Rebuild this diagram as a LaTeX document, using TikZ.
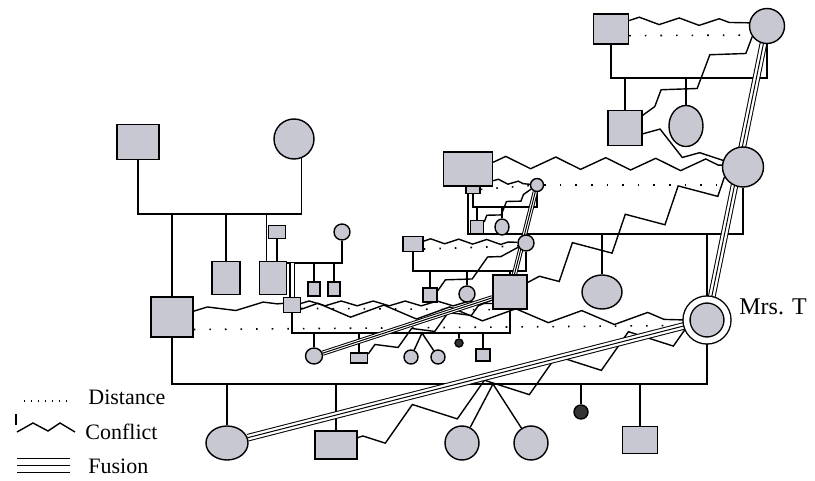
\documentclass[tikz,border=0pt]{standalone}
\usepackage{fontspec}
\setmainfont{Liberation Serif}
\usetikzlibrary{shapes.geometric,decorations.pathmorphing,backgrounds}
\definecolor{gfill}{RGB}{200,200,210}
\tikzset{
  pers/.style={draw, fill=gfill, line width=.7pt, inner sep=0pt},
  sq/.style 2 args={pers, rectangle, minimum width=#1*.5pt, minimum height=#2*.5pt},
  el/.style 2 args={pers, ellipse, minimum width=#1*.5pt, minimum height=#2*.5pt},
  rel/.style={line width=.7pt},
  distline/.style={line width=.8pt, dash pattern=on .8pt off 7pt},
  confline/.style 2 args={line width=.7pt, decorate, decoration={zigzag, amplitude=#1, segment length=#2}},
  fusline/.style={line width=.5pt, preaction={draw, line width=.5pt, double, double distance=#1}},
  fusline/.default=2.8pt,
  legend/.style={anchor=west, inner sep=0pt, font=\fontsize{11}{13}\selectfont}
}
\begin{document}
\begin{tikzpicture}[x=.5pt, y=-.5pt]
\useasboundingbox (0,0) rectangle (815,481);
% top right family
\node[sq={35}{30}] (tr1) at (611,29) {};
\node[el={35}{35}] (tr2) at (767,26) {};
\node[sq={34}{35}] (tr3) at (625,128) {};
\node[el={34}{41}] (tr4) at (686,126) {};
% grandparents of Mrs. T
\node[sq={49}{34}] (gs) at (468,169) {};
\node[sq={14}{7}] (gsr) at (473,190) {};
\node[el={41}{40}] (r2) at (743,167) {};
\node[el={13}{13}] (sc1) at (537,185) {};
\node[sq={13}{13}] (q3) at (477,227) {};
\node[el={14}{16}] (e3) at (502,227) {};
\node[sq={20}{15}] (q1) at (413,244) {};
\node[el={16}{16}] (sc2) at (526,243) {};
\node[sq={14}{14}] (q2) at (430,295) {};
\node[el={16}{16}] (e4) at (467,294) {};
\node[sq={34}{34}] (ms) at (510,292) {};
\node[el={40}{34}] (e1) at (602,292) {};
% left family
\node[sq={42}{35}] (gf) at (138,142) {};
\node[el={40}{40}] (gm) at (294,139) {};
\node[sq={42}{40}] (hs) at (172,317) {};
\node[sq={28}{33}] (b1) at (226,278) {};
\node[sq={27}{33}] (b2) at (273,278) {};
\node[sq={17}{13}] (b2s) at (277,232) {};
\node[el={16}{16}] (c1) at (342,232) {};
\node[sq={12}{14}] (k1) at (314,289) {};
\node[sq={12}{14}] (k2) at (334,289) {};
\node[sq={17}{15}] (s5) at (292,305) {};
% Mrs. T and children
\node[el={41}{41}, double, double distance=2.8pt] (mrst) at (707,320) {};
\node[anchor=west, inner sep=0pt, font=\fontsize{12}{14}\selectfont] (mrstl) at (739,307) {Mrs. T};
\node[el={42}{34}] (d1) at (227,443) {};
\node[sq={42}{28}] (d2) at (336,445) {};
\node[el={34}{34}] (d3) at (462,443) {};
\node[el={34}{34}] (d4) at (531,443) {};
\node[el={14}{14}, fill=black!80] (d5) at (581,412) {};
\node[sq={35}{27}] (d6) at (640,440) {};
% children of the small square
\node[el={17}{16}] (f1) at (314,356) {};
\node[sq={17}{10}] (f2) at (359,358) {};
\node[el={14}{14}] (f3) at (411,357) {};
\node[el={14}{14}] (f4) at (438,357) {};
\node[el={8}{8}, fill=black!80] (f5) at (459,343) {};
\node[sq={14}{12}] (f6) at (483,355) {};
\coordinate (m1) at (0,78);
\coordinate (m2) at (0,234);
\coordinate (m3) at (0,207);
\coordinate (m4) at (0,271);
\coordinate (m5) at (0,214);
\coordinate (m6) at (0,263);
\coordinate (m7) at (0,384);
\coordinate (m8) at (0,333);
\coordinate (tw1) at (493,384);
\coordinate (tw2) at (422,333);

\begin{scope}[on background layer]
% family lines
\begin{scope}[rel]
\draw (tr1) |- (m1 -| tr2) -- (tr2);
\foreach \c in {tr3,tr4} \draw (\c) -- (\c |- m1);
\draw (gs) |- (m2 -| r2) -- (r2);
\foreach \c in {e1,mrst} \draw (\c) -- (\c |- m2);
\draw (gsr) |- (m3 -| sc1) -- (sc1);
\foreach \c in {q3,e3} \draw (\c) -- (\c |- m3);
\draw (q1) |- (m4 -| sc2) -- (sc2);
\foreach \c in {q2,e4,ms} \draw (\c) -- (\c |- m4);
\draw (gf) |- (m5 -| gm.-68) -- (gm.-68);
\foreach \c in {hs,b1} \draw (\c) -- (\c |- m5);
\draw (b2.110) -- (b2.110 |- m5);
\draw (b2s) -- (b2s |- b2.north);
\draw (b2 |- m6) -| (c1);
\foreach \c in {k1,k2} \draw (\c) -- (\c |- m6);
\draw[double, double distance=1.5pt] (s5) -- (s5 |- m6);
\draw (hs) |- (m7 -| mrst) -- (mrst);
\foreach \c in {d1,d2,d5,d6} \draw (\c) -- (\c |- m7);
\draw (d3) -- (tw1) -- (d4);
\draw (s5) |- (m8 -| ms) -- (ms);
\foreach \c in {f1,f2,f5,f6} \draw (\c) -- (\c |- m8);
\draw (f3) -- (tw2) -- (f4);
\end{scope}
% distance
\draw[distline] (tr1.-20) -- (tr2.210);
\draw[distline] (sc1) -- (sc1 -| r2.west);
\draw[distline] (gsr) -- (sc1);
\draw[distline] (q1.-25) -- (sc2.200);
\draw[distline] (hs.-30) -- (mrst.195);
\draw[distline] (s5.-20) -- (ms.south west);
% conflict
\draw[confline={1.75pt}{20pt}] (tr1.25) -- (tr2.170);
\draw[confline={5pt}{30pt}] (tr2) -- (tr3);
\draw[confline={5pt}{30pt}] (tr3) -- (r2);
\draw[confline={3pt}{25pt}] (gs.15) -- (r2.175);
\draw[confline={1pt}{10pt}] (gs.-25) -- (sc1);
\draw[confline={2pt}{12pt}] (q3) -- (sc1);
\draw[confline={1.2pt}{14pt}] (q1.15) -- (sc2.175);
\draw[confline={3pt}{24pt}] (q2) -- (sc2);
\draw[confline={7pt}{30pt}] (r2) -- (ms);
\draw[confline={1.5pt}{28pt}] (hs.15) -- (s5.170);
\draw[confline={1.2pt}{16pt}] (s5.10) -- (ms.213);
\draw[confline={3.25pt}{33pt}] (s5.-25) -- (mrst.180);
\draw[confline={3pt}{20pt}] (f2) -- (ms);
\draw[confline={7pt}{38pt}] (mrst) -- (d2);
% fusion
\draw[fusline] (tr2) -- (mrst);
\draw[fusline] (mrst) -- (d1);
\draw[fusline=1.6pt] (ms) -- (f1);
\draw[fusline=1.6pt] (ms) -- (sc1);
\end{scope}

% legend
\coordinate (la) at (24,401);
\coordinate (lb) at (68,401);
\draw[line width=.6pt, dash pattern=on .5pt off 3pt] (la) -- (lb);
\node[legend] (ldist) at (88,397) {Distance};
\draw[rel] (16,414) -- (16,425);
\draw[rel] (17,432) -- (33,423) -- (48,431) -- (60,423) -- (75,432);
\node[legend] (lconf) at (85,432) {Conflict};
\coordinate (lc) at (17,465);
\coordinate (ld) at (70,465);
\draw[fusline=6.5pt] (lc) -- (ld);
\node[legend] (lfus) at (88,466) {Fusion};
\end{tikzpicture}
\end{document}
